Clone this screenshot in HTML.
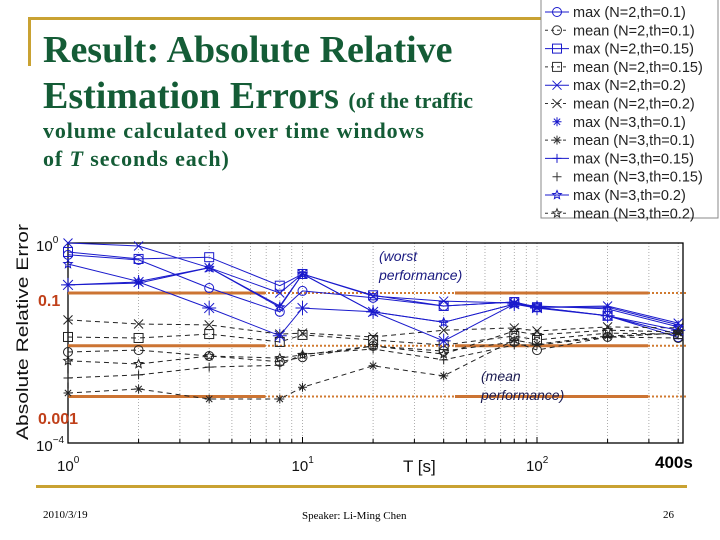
<!DOCTYPE html>
<html><head><meta charset="utf-8"><style>
body{margin:0;background:#fff;}
#slide{position:relative;width:720px;height:540px;overflow:hidden;background:#fff;font-family:"Liberation Serif",serif;}
.t{position:absolute;color:#145c36;font-weight:bold;white-space:nowrap;}
</style></head><body>
<div id="slide">
<div style="position:absolute;left:28px;top:17px;width:517px;height:3px;background:#c9a232"></div>
<div style="position:absolute;left:28px;top:17px;width:3px;height:49px;background:#c9a232"></div>
<div class="t" style="left:43px;top:28px;font-size:38px;">Result: Absolute Relative</div>
<div class="t" style="left:43px;top:74px;font-size:38px;">Estimation Errors <span style="font-size:22px;">(of the traffic</span></div>
<div class="t" style="left:43px;top:118px;font-size:22px;letter-spacing:0.9px;">volume calculated over time windows</div>
<div class="t" style="left:43px;top:146px;font-size:22px;letter-spacing:0.9px;">of <i>T</i> seconds each)</div>
<div style="position:absolute;left:36px;top:485px;width:651px;height:3px;background:#c9a232"></div>
<div style="position:absolute;left:43px;top:509px;font-size:11px;">2010/3/19</div>
<div style="position:absolute;left:302px;top:510px;font-size:11px;">Speaker: Li-Ming Chen</div>
<div style="position:absolute;left:663px;top:509px;font-size:11px;">26</div>
<svg id="chart" width="720" height="540" style="position:absolute;left:0;top:0" font-family="Liberation Sans, sans-serif"></svg>
</div>
<script>
const xs=[1,2,4,8,10,20,40,80,100,200,400];
const seriesNames=["max (N=2,th=0.1)","mean (N=2,th=0.1)","max (N=2,th=0.15)","mean (N=2,th=0.15)","max (N=2,th=0.2)","mean (N=2,th=0.2)","max (N=3,th=0.1)","mean (N=3,th=0.1)","max (N=3,th=0.15)","mean (N=3,th=0.15)","max (N=3,th=0.2)","mean (N=3,th=0.2)"];
const maxN2th01=[0.58,0.46,0.126,0.042,0.11,0.08,0.055,0.066,0.052,0.035,0.013];
const meanN2th01=[0.0066,0.0072,0.0055,0.0042,0.0052,0.0087,0.0069,0.0105,0.0072,0.0132,0.0126];
const maxN2th015=[0.66,0.48,0.52,0.14,0.24,0.09,0.055,0.066,0.052,0.035,0.015];
const meanN2th015=[0.0132,0.0126,0.0151,0.0105,0.0145,0.0115,0.0091,0.0138,0.0115,0.0158,0.0151];
const maxN2th02=[1.0,0.87,0.32,0.1,0.24,0.087,0.069,0.063,0.052,0.055,0.025];
const meanN2th02=[0.029,0.024,0.023,0.0151,0.0158,0.0132,0.018,0.02,0.0174,0.021,0.02];
const maxN3th01=[0.145,0.166,0.05,0.014,0.05,0.042,0.011,0.06,0.05,0.035,0.018];
const meanN3th01=[0.001,0.0012,0.00076,0.00076,0.0013,0.0035,0.0022,0.0115,0.0095,0.0138,0.0158];
const maxN3th015=[0.145,0.158,0.32,0.055,0.24,0.042,0.026,0.06,0.052,0.052,0.023];
const meanN3th015=[0.002,0.0023,0.0033,0.0036,0.006,0.0076,0.0046,0.0091,0.0091,0.0132,0.0158];
const maxN3th02=[0.38,0.17,0.32,0.052,0.24,0.042,0.026,0.06,0.055,0.048,0.021];
const meanN3th02=[0.0044,0.0038,0.0055,0.005,0.0058,0.0087,0.006,0.0174,0.0145,0.018,0.0166];
const refLevels=[0.1,0.0088,0.00085];
const yTicks=[0,-4];
const xTicks=[0,1,2];

const svg=document.getElementById('chart');
const NS='http://www.w3.org/2000/svg';
const L=68,R=683,T=243,B=443;
function X(v){return L+Math.log10(v)*234.5;}
function Y(v){return T-Math.log10(v)*50;}
function mk(tag,at,parent){const e=document.createElementNS(NS,tag);for(const k in at)e.setAttribute(k,at[k]);(parent||svg).appendChild(e);return e;}

for(let d=0;d<3;d++)for(let m=1;m<10;m++){const v=Math.pow(10,d)*m;if(v>400)break;const x=X(v);
 if(x>L+1&&x<R){const g=mk('line',{x1:x,y1:T,x2:x,y2:B,stroke:'#999','stroke-dasharray':'1,2','stroke-width':0.8});
 
 }
 const tk=mk('line',{x1:x,y1:B,x2:x,y2:B-(m==1?6:4),stroke:'#000'});
 
 }
const box=mk('rect',{x:L,y:T,width:R-L,height:B-T,fill:'none',stroke:'#000','stroke-width':1.3});



refLevels.forEach(v=>{const y=Y(v);
 const a=mk('line',{x1:L,y1:y,x2:R+5,y2:y,stroke:'#d07a30','stroke-width':2,'stroke-dasharray':'2,2'});
 
 
 const b=mk('line',{x1:L,y1:y,x2:265,y2:y,stroke:'#cc7433','stroke-width':3});
 
 
 const c=mk('line',{x1:455,y1:y,x2:648,y2:y,stroke:'#cc7433','stroke-width':3});
 
 });

function marker(type,x,y,col,g,big){const s=big?7:4.5;const at={stroke:col,'stroke-width':1,fill:'none'};
 if(type=='o')mk('circle',Object.assign({cx:x,cy:y,r:s},at),g);
 else if(type=='s')mk('rect',Object.assign({x:x-s,y:y-s,width:2*s,height:2*s},at),g);
 else if(type=='x'){mk('path',Object.assign({d:`M${x-s} ${y-s}L${x+s} ${y+s}M${x-s} ${y+s}L${x+s} ${y-s}`},at),g);}
 else if(type=='+'){mk('path',Object.assign({d:`M${x-s} ${y}L${x+s} ${y}M${x} ${y-s}L${x} ${y+s}`},at),g);}
 else if(type=='*'){mk('path',Object.assign({d:`M${x-s} ${y}L${x+s} ${y}M${x} ${y-s}L${x} ${y+s}M${x-s*.7} ${y-s*.7}L${x+s*.7} ${y+s*.7}M${x-s*.7} ${y+s*.7}L${x+s*.7} ${y-s*.7}`},at),g);}
 else if(type=='p'){let d='';for(let i=0;i<10;i++){const r=i%2?s*0.45:s;const a=-Math.PI/2+i*Math.PI/5;d+=(i?'L':'M')+(x+r*Math.cos(a)).toFixed(1)+' '+(y+r*Math.sin(a)).toFixed(1);}mk('path',Object.assign({d:d+'Z'},at),g);}
}
const allSeries=[maxN2th01,meanN2th01,maxN2th015,meanN2th015,maxN2th02,meanN2th02,maxN3th01,meanN3th01,maxN3th015,meanN3th015,maxN3th02,meanN3th02];
const mtypes=['o','o','s','s','x','x','*','*','+','+','p','p'];
allSeries.forEach((vals,i)=>{const isMax=i%2==0;const col=isMax?'#1a1acc':'#222';
 const g=mk('g',{});
 
 
 const d=vals.map((v,j)=>(j?'L':'M')+X(xs[j]).toFixed(1)+' '+Y(v).toFixed(1)).join('');
 mk('path',{d:d,fill:'none',stroke:col,'stroke-width':1,'stroke-dasharray':isMax?'none':'5,4'},g);
 vals.forEach((v,j)=>marker(mtypes[i],X(xs[j]),Y(v),col,g,i==6));});

function txt(s,at,name){const e=mk('text',at);e.textContent=s;return e;}
yTicks.forEach(p=>{const y=Y(Math.pow(10,p));const t=txt('10',{x:36,y:y+8,'font-size':15,fill:'#111'},'y-tick-label');const s=mk('tspan',{dy:-8,'font-size':10},t);s.textContent=String(p).replace('-','−');});
xTicks.forEach(p=>{const x=X(Math.pow(10,p));const t=txt('10',{x:x-11,y:471,'font-size':15,fill:'#111'},'x-tick-label');const s=mk('tspan',{dy:-8,'font-size':10},t);s.textContent=p;});
txt('T [s]',{x:403,y:472,'font-size':17,fill:'#111'},'x-axis-title');
txt('400s',{x:655,y:468,'font-size':17,'font-weight':'bold',fill:'#000'},'x-end-label');
txt('Absolute Relative Error',{x:0,y:0,'font-size':17,fill:'#111',textLength:216,lengthAdjust:'spacingAndGlyphs',transform:'translate(28,440) rotate(-90)'},'y-axis-title');
txt('0.1',{x:38,y:306,'font-size':16,'font-weight':'bold',fill:'#c0401a'},'ref-label-0.1');
txt('0.001',{x:38,y:424,'font-size':16,'font-weight':'bold',fill:'#c0401a'},'ref-label-0.001');
txt('(worst',{x:379,y:261,'font-size':14,'font-style':'italic',fill:'#1a1a80'},'annotation-worst');
txt('performance)',{x:379,y:280,'font-size':14,'font-style':'italic',fill:'#1a1a80'},'annotation-worst');
txt('(mean',{x:481,y:381,'font-size':14,'font-style':'italic',fill:'#1a1a50'},'annotation-mean');
txt('performance)',{x:481,y:400,'font-size':14,'font-style':'italic',fill:'#1a1a50'},'annotation-mean');

const lg=mk('g',{});


mk('rect',{x:541,y:-1,width:177,height:219,fill:'#fff',stroke:'#888'},lg);
seriesNames.forEach((n,i)=>{const y=12+i*18.3;const isMax=i%2==0;const col=isMax?'#1a1acc':'#333';
 const g=mk('g',{},lg);
 
 
 if(!(i==6||i==9))mk('line',{x1:545,y1:y,x2:569,y2:y,stroke:col,'stroke-dasharray':isMax?'none':'3,3'},g);
 marker(mtypes[i],557,y,col,g,false);
 const t=mk('text',{x:573,y:y+5,'font-size':14.5,fill:'#222'},g);t.textContent=n;});
</script>
</body></html>
